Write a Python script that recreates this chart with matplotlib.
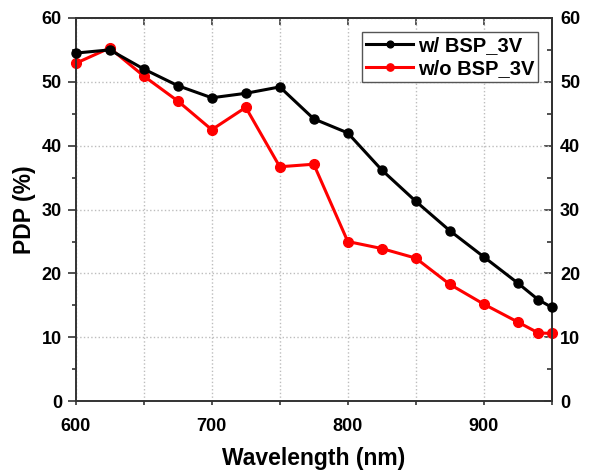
import matplotlib
matplotlib.use("Agg")
import matplotlib.pyplot as plt
from matplotlib.ticker import MultipleLocator, NullFormatter, FixedLocator

wavelength = [600, 625, 650, 675, 700, 725, 750, 775, 800, 825, 850, 875, 900, 925, 940, 950]
pdp_with_bsp = [54.5, 55.0, 52.0, 49.4, 47.5, 48.2, 49.2, 44.2, 42.0, 36.2, 31.3, 26.7, 22.6, 18.5, 15.9, 14.7]
pdp_without_bsp = [52.9, 55.3, 50.9, 47.0, 42.5, 46.0, 36.7, 37.1, 25.0, 23.9, 22.4, 18.3, 15.2, 12.4, 10.7, 10.6]
series_labels = ["w/ BSP_3V", "w/o BSP_3V"]
y_major = [0, 10, 20, 30, 40, 50, 60]
y_minor = [5, 15, 25, 35, 45, 55]
x_top = [600, 650, 700, 750, 800, 850, 900, 950]

plt.rcParams['font.family'] = ['Liberation Sans', 'DejaVu Sans']
plt.rcParams['font.weight'] = 'bold'

fig = plt.figure(figsize=(5.92, 4.72), dpi=100)
ax = fig.add_axes([0.128, 0.150, 0.804, 0.812])

ax.plot(wavelength, pdp_with_bsp, color='black', lw=2.2, marker='o', ms=6.5,
        label=series_labels[0], zorder=3, clip_on=False)
ax.plot(wavelength, pdp_without_bsp, color='#ff0000', lw=2.2, marker='o', ms=7.0,
        label=series_labels[1], zorder=2, clip_on=False)

ax.set_xlim(600, 950)
ax.set_ylim(0, 60)
ax.xaxis.set_major_locator(MultipleLocator(100))
ax.xaxis.set_minor_locator(MultipleLocator(50))
ax.yaxis.set_major_locator(FixedLocator(y_major))
ax.yaxis.set_minor_locator(FixedLocator(y_minor))

ax.grid(True, which='major', axis='y', color='#bdbdbd', ls=':', lw=1.0)
ax.grid(True, which='both', axis='x', color='#bdbdbd', ls=':', lw=1.0)
ax.set_axisbelow(True)

for s in ax.spines.values():
    s.set_linewidth(1.4)
    s.set_color('#333333')

ax.tick_params(which='both', direction='out', width=1.2, colors='#333333',
               labelsize=13, labelcolor='black')
ax.tick_params(axis='y', which='major', length=5.5, pad=4.5)
ax.tick_params(axis='y', which='minor', length=3)
ax.tick_params(axis='x', which='major', length=3, pad=9)
ax.tick_params(axis='x', which='minor', length=3)

# mirrored axes: right with labels (ticks inward), top without labels (ticks inward)
ax_r = ax.secondary_yaxis('right')
ax_r.yaxis.set_major_locator(FixedLocator(y_major))
ax_r.yaxis.set_minor_locator(FixedLocator(y_minor))
ax_r.tick_params(which='both', direction='in', width=1.2, colors='#333333',
                 labelsize=13, labelcolor='black')
ax_r.tick_params(which='major', length=6, pad=6)
ax_r.tick_params(which='minor', length=3.5)
ax_r.spines['right'].set_linewidth(1.4)
ax_r.spines['right'].set_color('#333333')

ax_t = ax.secondary_xaxis('top')
ax_t.xaxis.set_major_locator(FixedLocator(x_top))
ax_t.xaxis.set_major_formatter(NullFormatter())
ax_t.tick_params(which='both', direction='in', width=1.2, colors='#333333', length=5)
ax_t.spines['top'].set_linewidth(1.4)
ax_t.spines['top'].set_color('#333333')

ax.set_xlabel('Wavelength (nm)', fontsize=16.5, fontweight='bold', labelpad=9)
ax.set_ylabel('PDP (%)', fontsize=16.5, fontweight='bold', labelpad=4)

leg = ax.legend(loc='upper right', bbox_to_anchor=(0.98, 0.975), fontsize=14.5,
                frameon=True, fancybox=False, edgecolor='#555555',
                handlelength=2.3, markerscale=0.75, borderpad=0.2,
                labelspacing=0.22, handletextpad=0.25, borderaxespad=0.2,
                framealpha=1.0)
leg.get_frame().set_linewidth(1.0)

fig.savefig('out.png', dpi=100)
